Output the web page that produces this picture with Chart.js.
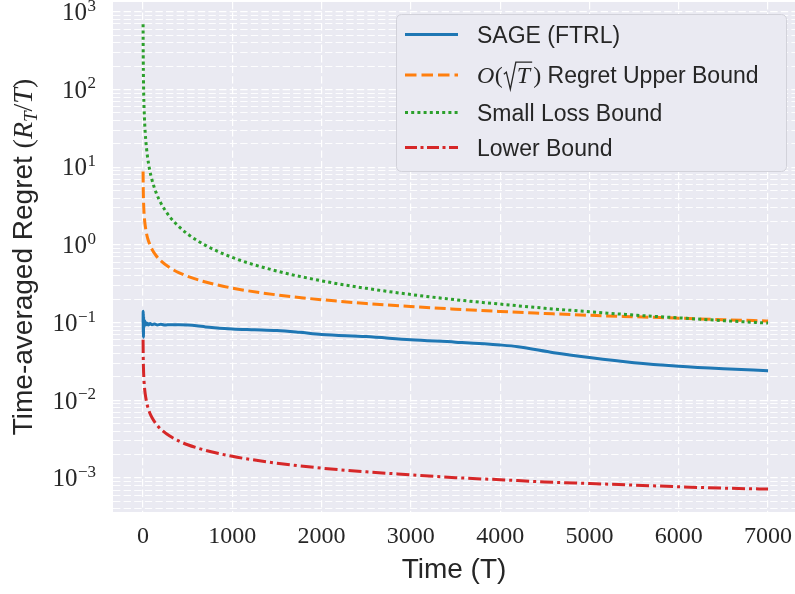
<!DOCTYPE html>
<html>
<head>
<meta charset="utf-8">
<script src="https://cdn.jsdelivr.net/npm/chart.js@4.4.1/dist/chart.umd.min.js"></script>
<style>
  html, body { margin: 0; padding: 0; background: #fff; }
  canvas { display: block; }
</style>
</head>
<body>
<canvas id="regretChart" width="795" height="594"></canvas>
<script>
const seriesNames = ['SAGE (FTRL)', 'O(√T) Regret Upper Bound', 'Small Loss Bound', 'Lower Bound'];

// time steps the three bound curves were read at
const boundT = [1, 2, 3, 5, 8, 12, 20, 30, 50, 75, 100, 150, 200, 300, 400, 500, 700, 1000,
  1500, 2000, 2500, 3000, 3500, 4000, 4500, 5000, 5500, 6000, 6500, 7000];
const upperBound = [8.8, 6.22, 5.08, 3.94, 3.11, 2.54, 1.97, 1.61, 1.24, 1.02, 0.88, 0.719, 0.622, 0.508,
  0.44, 0.394, 0.333, 0.278, 0.227, 0.197, 0.176, 0.161, 0.149, 0.139, 0.131, 0.124, 0.119, 0.114, 0.109, 0.105];
const smallLoss = [690, 345, 230, 138, 86, 57.5, 34.5, 23, 13.8, 9.2, 6.9, 4.6, 3.45, 2.3, 1.73, 1.38,
  0.986, 0.69, 0.46, 0.345, 0.276, 0.23, 0.197, 0.173, 0.153, 0.138, 0.125, 0.115, 0.106, 0.0986];
const lowerBound = [0.06, 0.0424, 0.0346, 0.0268, 0.0212, 0.0173, 0.0134, 0.011, 0.0085, 0.0069, 0.006,
  0.0049, 0.00424, 0.00346, 0.003, 0.00268, 0.00227, 0.0019, 0.00155, 0.00134, 0.0012, 0.0011, 0.00101,
  0.00095, 0.00089, 0.00085, 0.00081, 0.00077, 0.00074, 0.00072];

// SAGE run, denser at the start where it is noisy
const sageT = [1, 2, 3, 4, 5, 7, 9, 12, 15, 20, 25, 30, 40, 50, 60, 80, 100, 130, 160, 200, 250, 300,
  400, 500, 600, 700, 800, 1000, 1250, 1500, 1750, 2000, 2500, 3000, 3500, 4000, 4200, 4600, 5000,
  5500, 6000, 6500, 7000];
const sageRegret = [0.100, 0.140, 0.075, 0.130, 0.065, 0.120, 0.085, 0.110, 0.090, 0.105, 0.093, 0.100,
  0.094, 0.098, 0.093, 0.097, 0.094, 0.096, 0.093, 0.095, 0.093, 0.094, 0.094, 0.093, 0.091, 0.088,
  0.086, 0.083, 0.081, 0.079, 0.075, 0.0705, 0.066, 0.060, 0.056, 0.0515, 0.049, 0.041, 0.0355,
  0.0305, 0.0275, 0.0255, 0.024];

const xTicks = [0, 1000, 2000, 3000, 4000, 5000, 6000, 7000];
const yDecades = [-3, -2, -1, 0, 1, 2, 3];

const SANS = '"Liberation Sans", Arial, sans-serif';
const SERIF = '"Liberation Serif", "Times New Roman", serif';
const INK = '#262626';
const legendDash = [[], [11.5, 5], [3, 3.2], [12, 3.5, 3, 3.5]];

function drawYTickLabels(chart) {
  const ctx = chart.ctx, y = chart.scales.y;
  ctx.save();
  ctx.fillStyle = INK;
  ctx.textAlign = 'left';
  ctx.textBaseline = 'alphabetic';
  yDecades.forEach(d => {
    const py = y.getPixelForValue(Math.pow(10, d));
    const exp = d < 0 ? '\u2212' + (-d) : String(d);
    ctx.font = '17px ' + SERIF;
    const ew = ctx.measureText(exp).width;
    ctx.font = '25px ' + SERIF;
    const bw = ctx.measureText('10').width;
    const right = 96;
    ctx.fillText('10', right - ew - bw - 0.5, py + 8.3);
    ctx.font = '17px ' + SERIF;
    ctx.fillText(exp, right - ew, py - 1);
  });
  ctx.restore();
}

function drawYTitle(chart) {
  const ctx = chart.ctx, a = chart.chartArea;
  const parts = [
    {t: 'Time-averaged Regret ', f: '28px ' + SANS, dy: 0},
    {t: '(', f: '28px ' + SERIF, dy: 0},
    {t: 'R', f: 'italic 28px ' + SERIF, dy: 0},
    {t: 'T', f: 'italic 19px ' + SERIF, dy: 5},
    {t: '/', f: '28px ' + SERIF, dy: 0},
    {t: 'T', f: 'italic 28px ' + SERIF, dy: 0},
    {t: ')', f: '28px ' + SERIF, dy: 0}
  ];
  ctx.save();
  let total = 0;
  parts.forEach(p => { ctx.font = p.f; p.w = ctx.measureText(p.t).width; total += p.w; });
  ctx.translate(32, (a.top + a.bottom) / 2);
  ctx.rotate(-Math.PI / 2);
  ctx.fillStyle = INK;
  ctx.textBaseline = 'alphabetic';
  ctx.textAlign = 'left';
  let x = -total / 2;
  parts.forEach(p => { ctx.font = p.f; ctx.fillText(p.t, x, p.dy); x += p.w; });
  ctx.restore();
}

function drawLegend(chart) {
  const ctx = chart.ctx;
  const rows = [34.5, 75, 112.5, 147.5];
  ctx.save();
  ctx.beginPath();
  ctx.roundRect(396.5, 14.5, 390, 157, 5);
  ctx.fillStyle = '#EAEAF2';
  ctx.fill();
  ctx.strokeStyle = '#d2d2da';
  ctx.lineWidth = 1;
  ctx.stroke();

  chart.data.datasets.forEach((ds, i) => {
    const cy = rows[i];
    ctx.beginPath();
    ctx.setLineDash(legendDash[i]);
    ctx.lineCap = 'butt';
    ctx.strokeStyle = ds.borderColor;
    ctx.lineWidth = ds.borderWidth;
    ctx.moveTo(405, cy);
    ctx.lineTo(458, cy);
    ctx.stroke();
    ctx.setLineDash([]);

    const base = cy + 8.2;
    ctx.fillStyle = INK;
    ctx.textBaseline = 'alphabetic';
    ctx.textAlign = 'left';
    if (i !== 1) {
      ctx.font = '23px ' + SANS;
      ctx.fillText(seriesNames[i], 477, base);
      return;
    }
    // O(√T) Regret Upper Bound, with the math part set by hand
    let x = 477;
    ctx.font = 'italic 24px ' + SERIF;
    ctx.fillText('O', x, base); x += ctx.measureText('O').width + 0.5;
    ctx.font = '24px ' + SERIF;
    ctx.fillText('(', x, base); x += ctx.measureText('(').width;
    ctx.font = 'italic 24px ' + SERIF;
    const tw = ctx.measureText('T').width;
    ctx.beginPath();
    ctx.strokeStyle = INK;
    ctx.lineWidth = 1.3;
    ctx.moveTo(x + 1, base - 9);
    ctx.lineTo(x + 3.5, base - 11);
    ctx.lineTo(x + 7.5, base + 6);
    ctx.lineTo(x + 13, base - 21);
    ctx.lineTo(x + 16 + tw, base - 21);
    ctx.stroke();
    ctx.fillText('T', x + 14, base);
    x += 16 + tw + 1;
    ctx.font = '24px ' + SERIF;
    ctx.fillText(')', x, base); x += ctx.measureText(')').width;
    ctx.font = '23px ' + SANS;
    ctx.fillText(' Regret Upper Bound', x, base);
  });
  ctx.restore();
}

const decor = {
  id: 'decor',
  beforeDraw(chart) {
    const {ctx, chartArea: a} = chart;
    ctx.save();
    ctx.fillStyle = '#fff';
    ctx.fillRect(0, 0, chart.width, chart.height);
    ctx.fillStyle = '#EAEAF2';
    ctx.fillRect(a.left, a.top, a.right - a.left, a.bottom - a.top);
    ctx.restore();
  },
  afterDraw(chart) {
    drawYTickLabels(chart);
    drawYTitle(chart);
    drawLegend(chart);
  }
};

const toPoints = (xs, ys) => xs.map((t, i) => ({x: t, y: ys[i]}));

new Chart(document.getElementById('regretChart'), {
  type: 'line',
  data: {
    datasets: [
      {label: seriesNames[0], data: toPoints(sageT, sageRegret), borderColor: '#1f77b4', borderWidth: 3, order: 3},
      {label: seriesNames[1], data: toPoints(boundT, upperBound), borderColor: '#ff7f0e', borderWidth: 3, borderDash: [11, 4.6], order: 2},
      {label: seriesNames[2], data: toPoints(boundT, smallLoss), borderColor: '#2ca02c', borderWidth: 3, borderDash: [3, 3.2], order: 1},
      {label: seriesNames[3], data: toPoints(boundT, lowerBound), borderColor: '#d62728', borderWidth: 3, borderDash: [13, 4, 3, 4], order: 0}
    ]
  },
  options: {
    responsive: false,
    devicePixelRatio: 1,
    animation: false,
    layout: {padding: {top: 2, left: 0, right: 0, bottom: 0}},
    elements: {
      point: {radius: 0},
      line: {fill: false, cubicInterpolationMode: 'monotone', borderCapStyle: 'butt'}
    },
    plugins: {legend: {display: false}, tooltip: {enabled: false}},
    scales: {
      x: {
        type: 'linear',
        bounds: 'data',
        min: -336,
        max: 7302,
        afterBuildTicks: s => { s.ticks = xTicks.map(v => ({value: v})); },
        afterFit: s => { s.height = 82; s.paddingLeft = 0; s.paddingRight = 0; },
        grid: {color: '#fff', lineWidth: 1.2, drawTicks: false},
        border: {display: false, dash: [7.4, 3.2]},
        ticks: {font: {family: SERIF, size: 24}, color: INK, padding: 10, maxRotation: 0, autoSkip: false,
          callback: v => String(v)},
        title: {display: true, text: 'Time (T)', font: {family: SANS, size: 28}, color: INK, padding: {top: 0, bottom: 7}}
      },
      y: {
        type: 'logarithmic',
        bounds: 'data',
        min: 3.65e-4,
        max: 1337,
        afterBuildTicks: s => {
          const ticks = [];
          for (let d = yDecades[0] - 1; d <= yDecades[yDecades.length - 1]; d++) {
            for (let k = 1; k <= 9; k++) {
              const v = k * Math.pow(10, d);
              if (v >= s.min && v <= s.max) ticks.push({value: v, major: k === 1});
            }
          }
          s.ticks = ticks;
        },
        afterFit: s => { s.width = 113; s.paddingTop = 0; s.paddingBottom = 0; },
        grid: {
          color: '#fff',
          drawTicks: false,
          lineWidth: c => (c.tick && c.tick.major ? 1.2 : 0.9)
        },
        border: {display: false, dash: [7.4, 3.2]},
        ticks: {display: false}
      }
    }
  },
  plugins: [decor]
});
</script>
</body>
</html>
